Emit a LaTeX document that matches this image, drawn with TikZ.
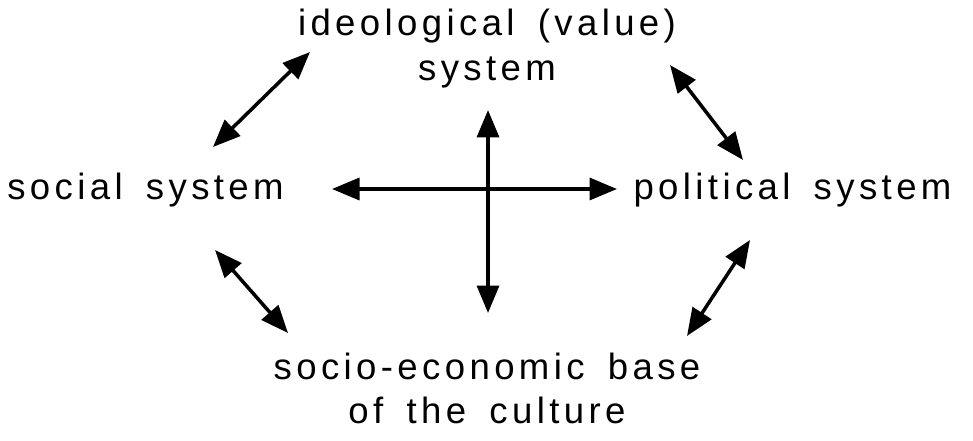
\documentclass[tikz,border=0pt]{standalone}
\usepackage{fontspec}
\setmainfont[LetterSpace=12, WordSpace=1.6]{Liberation Sans}
\usepackage{tikz}
\usetikzlibrary{arrows.meta, positioning}
\tikzstyle{subsystem}=[inner sep=0pt, font=\fontsize{20.8}{25.5}\selectfont, align=center]
\tikzstyle{link}=[line width=2pt, {Triangle[length=5.5mm,width=4.4mm]}-{Triangle[length=5.5mm,width=4.4mm]}]

\begin{document}
\begin{tikzpicture}
          \useasboundingbox (0,0) rectangle (19.46,8.8);
          \node[subsystem] (ideo) at (9.74,7.83) {ideological (value)\\system};
          \node[subsystem] (social) at (2.91,5.0) {social system};
          \node[subsystem] (political) at (15.85,5.0) {political system};
          \node[subsystem] (base) at (9.74,1.03) {socio-economic base\\of the culture};

          % arrow ends
          \coordinate (tl1) at (4.26,5.86);  \coordinate (tl2) at (6.2,7.76);
          \coordinate (tr1) at (13.4,7.5);   \coordinate (tr2) at (14.86,5.6);
          \coordinate (bl1) at (4.3,3.8);    \coordinate (bl2) at (5.76,2.14);
          \coordinate (br1) at (15.0,4.0);   \coordinate (br2) at (13.74,2.08);
          \coordinate (hl) at (6.64,5.02);   \coordinate (hr) at (12.34,5.02);
          \coordinate (vt) at (9.76,6.6);    \coordinate (vb) at (9.76,2.54);

          \draw[link] (tl1) -- (tl2);
          \draw[link] (tr1) -- (tr2);
          \draw[link] (bl1) -- (bl2);
          \draw[link] (br1) -- (br2);
          \draw[link] (hl) -- (hr);
          \draw[link] (vt) -- (vb);
        \end{tikzpicture}
\end{document}
